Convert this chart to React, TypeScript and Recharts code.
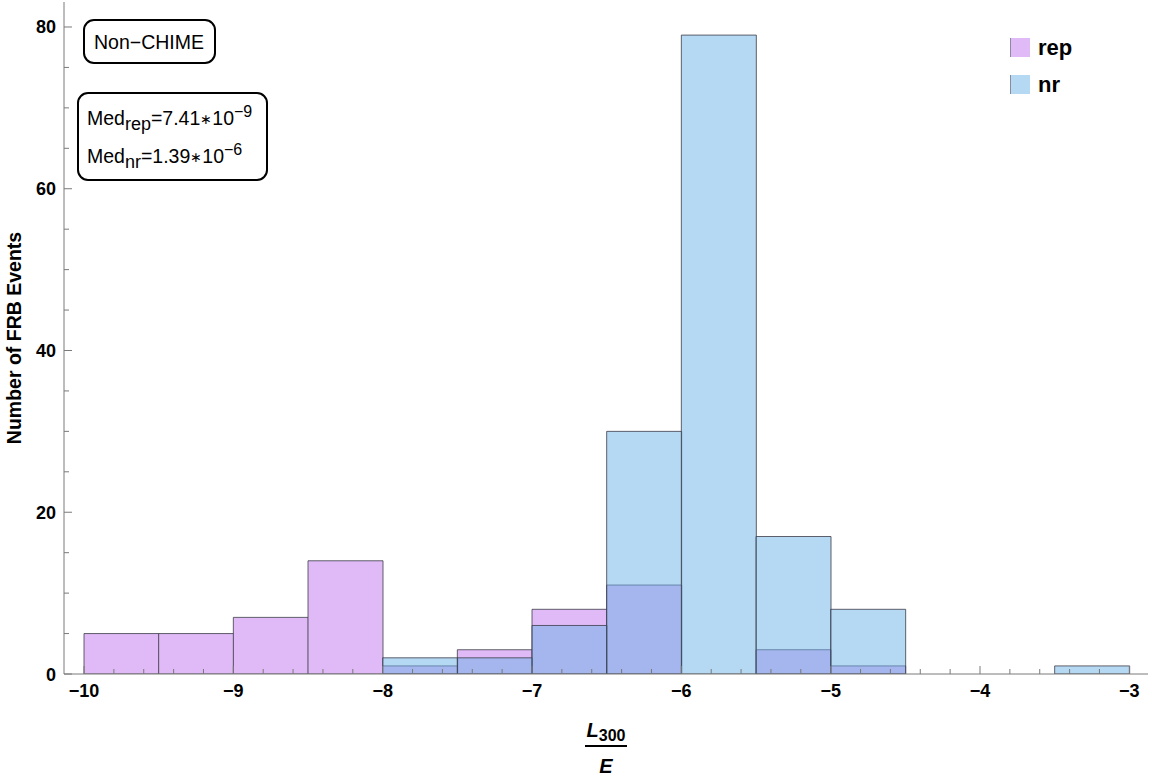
import { Bar, BarChart, Legend, XAxis, YAxis } from "recharts";

// histogram bins (left edge of each 0.5 wide bin)
const BIN_LABELS = ["-10", "-9.5", "-9", "-8.5", "-8", "-7.5", "-7", "-6.5", "-6", "-5.5", "-5", "-4.5", "-4", "-3.5"];
const REP_COUNTS = [5, 5, 7, 14, 1, 3, 8, 11, 0, 3, 1, 0, 0, 0];
const NR_COUNTS = [0, 0, 0, 0, 2, 2, 6, 30, 79, 17, 8, 0, 0, 1];
const SERIES = ["rep", "nr"];

const X_MAJOR = [-10, -9, -8, -7, -6, -5, -4, -3];
const X_TICKS = [
  -10, -9.8, -9.6, -9.4, -9.2, -9, -8.8, -8.6, -8.4, -8.2, -8, -7.8, -7.6, -7.4, -7.2, -7, -6.8, -6.6,
  -6.4, -6.2, -6, -5.8, -5.6, -5.4, -5.2, -5, -4.8, -4.6, -4.4, -4.2, -4, -3.8, -3.6, -3.4, -3.2, -3,
];
const Y_MAJOR = [0, 20, 40, 60, 80];
const Y_TICKS = [0, 5, 10, 15, 20, 25, 30, 35, 40, 45, 50, 55, 60, 65, 70, 75, 80];

const X_DOMAIN: [number, number] = [-10.134, -2.875];
const Y_DOMAIN: [number, number] = [0, 83.09];
const BIN_SPAN: [number, number] = [-10, -3];

const W = 1152;
const H = 777;
const MARGIN = { top: 2, right: 4, bottom: 3, left: 0 };
const Y_AXIS_W = 64;
const PLOT_W = W - MARGIN.left - MARGIN.right - Y_AXIS_W;
const PAD_L = ((BIN_SPAN[0] - X_DOMAIN[0]) / (X_DOMAIN[1] - X_DOMAIN[0])) * PLOT_W;
const PAD_R = ((X_DOMAIN[1] - BIN_SPAN[1]) / (X_DOMAIN[1] - X_DOMAIN[0])) * PLOT_W;

const FONT = "'Liberation Sans', Arial, sans-serif";
const FRAME = "#7a7a7a";
const EDGE = "#3c3c48";
const REP_FILL = "#dfbaf7";
const NR_FILL = "#6bb1e7";
const SWATCH: Record<string, string> = { rep: REP_FILL, nr: "#b5d8f3" };

const data = BIN_LABELS.map((bin, i) => ({ bin, edge: Number(bin), rep: REP_COUNTS[i], nr: NR_COUNTS[i] }));

const fmt = (v: number) => (v < 0 ? "\u2212" + Math.abs(v) : String(v));

function BottomTick({ x, y, payload }: any) {
  const major = X_MAJOR.includes(payload.value);
  return (
    <g>
      <line x1={x} x2={x} y1={y} y2={y - (major ? 8 : 5)} stroke={FRAME} />
      {major && (
        <text x={x} y={y + 23} textAnchor="middle" fontFamily={FONT} fontWeight="bold" fontSize={18} fill="#000">
          {fmt(payload.value)}
        </text>
      )}
    </g>
  );
}

function TopTick({ x, y, payload }: any) {
  const major = X_MAJOR.includes(payload.value);
  return <line x1={x} x2={x} y1={y} y2={y + (major ? 8 : 5)} stroke={FRAME} />;
}

function LeftTick({ x, y, payload }: any) {
  const major = Y_MAJOR.includes(payload.value);
  return (
    <g>
      <line x1={x} x2={x + (major ? 8 : 5)} y1={y} y2={y} stroke={FRAME} />
      {major && (
        <text x={x - 8} y={y + 6.5} textAnchor="end" fontFamily={FONT} fontWeight="bold" fontSize={18} fill="#000">
          {payload.value}
        </text>
      )}
    </g>
  );
}

function RightTick({ x, y, payload }: any) {
  const major = Y_MAJOR.includes(payload.value);
  return <line x1={x} x2={x - (major ? 8 : 5)} y1={y} y2={y} stroke={FRAME} />;
}

function XTitle({ viewBox }: any) {
  const cx = viewBox.x + viewBox.width / 2;
  const y = viewBox.y;
  return (
    <g fontFamily={FONT} fontWeight="bold" fill="#000">
      <text x={cx} y={y + 63} textAnchor="middle" fontSize={20}>
        <tspan fontStyle="italic">L</tspan>
        <tspan fontSize={16} dy={4}>300</tspan>
      </text>
      <line x1={cx - 21} x2={cx + 21} y1={y + 72} y2={y + 72} stroke="#000" strokeWidth={2} />
      <text x={cx} y={y + 99} textAnchor="middle" fontSize={20} fontStyle="italic">
        E
      </text>
    </g>
  );
}

function YTitle({ viewBox }: any) {
  const x = viewBox.x + 14;
  const y = viewBox.y + viewBox.height / 2;
  return (
    <text
      x={x}
      y={y}
      transform={`rotate(-90, ${x}, ${y})`}
      textAnchor="middle"
      dominantBaseline="central"
      fontFamily={FONT}
      fontWeight="bold"
      fontSize={19.5}
      fill="#000"
    >
      Number of FRB Events
    </text>
  );
}

function LegendBox({ payload }: any) {
  const items = [...(payload ?? [])].sort((a: any, b: any) => SERIES.indexOf(a.value) - SERIES.indexOf(b.value));
  return (
    <div style={{ fontFamily: FONT }}>
      {items.map((p: any) => (
        <div key={p.value} style={{ display: "flex", alignItems: "center", height: 37 }}>
          <span
            style={{
              width: 19,
              height: 19,
              background: SWATCH[p.value],
              borderLeft: "1px solid #8a8aa0",
              marginRight: 8,
            }}
          />
          <span style={{ fontWeight: "bold", fontSize: 22, lineHeight: "19px" }}>{p.value}</span>
        </div>
      ))}
    </div>
  );
}

function Notes() {
  return (
    <svg width={W} height={H} style={{ position: "absolute", left: 0, top: 0, pointerEvents: "none" }}>
      <g fontFamily={FONT} fill="#000">
        <rect x={84} y={20} width={131} height={43} rx={10} fill="#fff" stroke="#000" strokeWidth={2} />
        <text x={94} y={49} fontSize={19.5}>
          Non{"\u2212"}CHIME
        </text>
        <rect x={78} y={93} width={189} height={87} rx={10} fill="#fff" stroke="#000" strokeWidth={2} />
        <text x={87} y={125} fontSize={19.5}>
          <tspan>Med</tspan>
          <tspan fontSize={18} dy={4.5}>rep</tspan>
          <tspan dy={-4.5}>=7.41</tspan>
          <tspan fontSize={14} dy={-1}>{"\u2217"}</tspan>
          <tspan dy={1}>10</tspan>
          <tspan fontSize={16} dy={-8.5}>{"\u2212"}9</tspan>
        </text>
        <text x={87} y={163} fontSize={19.5}>
          <tspan>Med</tspan>
          <tspan fontSize={18} dy={4.5}>nr</tspan>
          <tspan dy={-4.5}>=1.39</tspan>
          <tspan fontSize={14} dy={-1}>{"\u2217"}</tspan>
          <tspan dy={1}>10</tspan>
          <tspan fontSize={16} dy={-8.5}>{"\u2212"}6</tspan>
        </text>
      </g>
    </svg>
  );
}

export default function App() {
  return (
    <div style={{ position: "absolute", left: 0, top: 0, width: W, height: H, background: "#fff" }}>
      <BarChart width={W} height={H} data={data} margin={MARGIN} barCategoryGap={0} barGap={0}>
        <XAxis xAxisId="rep" dataKey="bin" type="category" hide padding={{ left: PAD_L, right: PAD_R }} />
        <XAxis xAxisId="nr" dataKey="bin" type="category" hide padding={{ left: PAD_L, right: PAD_R }} />
        <XAxis
          xAxisId="main"
          dataKey="edge"
          type="number"
          domain={X_DOMAIN}
          allowDataOverflow
          ticks={X_TICKS}
          interval={0}
          height={100}
          tickSize={0}
          tickMargin={0}
          tickLine={false}
          tick={<BottomTick />}
          axisLine={{ stroke: FRAME }}
          label={<XTitle />}
        />
        <XAxis
          xAxisId="top"
          dataKey="edge"
          orientation="top"
          type="number"
          domain={X_DOMAIN}
          allowDataOverflow
          ticks={X_TICKS}
          interval={0}
          height={0}
          tickSize={0}
          tickMargin={0}
          tickLine={false}
          tick={<TopTick />}
          axisLine={{ stroke: FRAME }}
        />
        <YAxis
          yAxisId="left"
          type="number"
          domain={Y_DOMAIN}
          allowDataOverflow
          ticks={Y_TICKS}
          interval={0}
          width={Y_AXIS_W}
          tickSize={0}
          tickMargin={0}
          tickLine={false}
          tick={<LeftTick />}
          axisLine={{ stroke: FRAME }}
          label={<YTitle />}
        />
        <YAxis
          yAxisId="right"
          dataKey="nr"
          orientation="right"
          type="number"
          domain={Y_DOMAIN}
          allowDataOverflow
          ticks={Y_TICKS}
          interval={0}
          width={0}
          tickSize={0}
          tickMargin={0}
          tickLine={false}
          tick={<RightTick />}
          axisLine={{ stroke: FRAME }}
        />
        <Bar
          xAxisId="rep"
          yAxisId="left"
          dataKey="rep"
          name="rep"
          fill={REP_FILL}
          stroke={EDGE}
          strokeWidth={0.8}
          isAnimationActive={false}
        />
        <Bar
          xAxisId="nr"
          yAxisId="left"
          dataKey="nr"
          name="nr"
          fill={NR_FILL}
          fillOpacity={0.5}
          stroke={EDGE}
          strokeWidth={0.8}
          isAnimationActive={false}
        />
        <Legend
          layout="vertical"
          align="center"
          verticalAlign="middle"
          content={<LegendBox />}
          wrapperStyle={{ top: 29, left: 1010, width: 100 }}
        />
      </BarChart>
      <Notes />
    </div>
  );
}
